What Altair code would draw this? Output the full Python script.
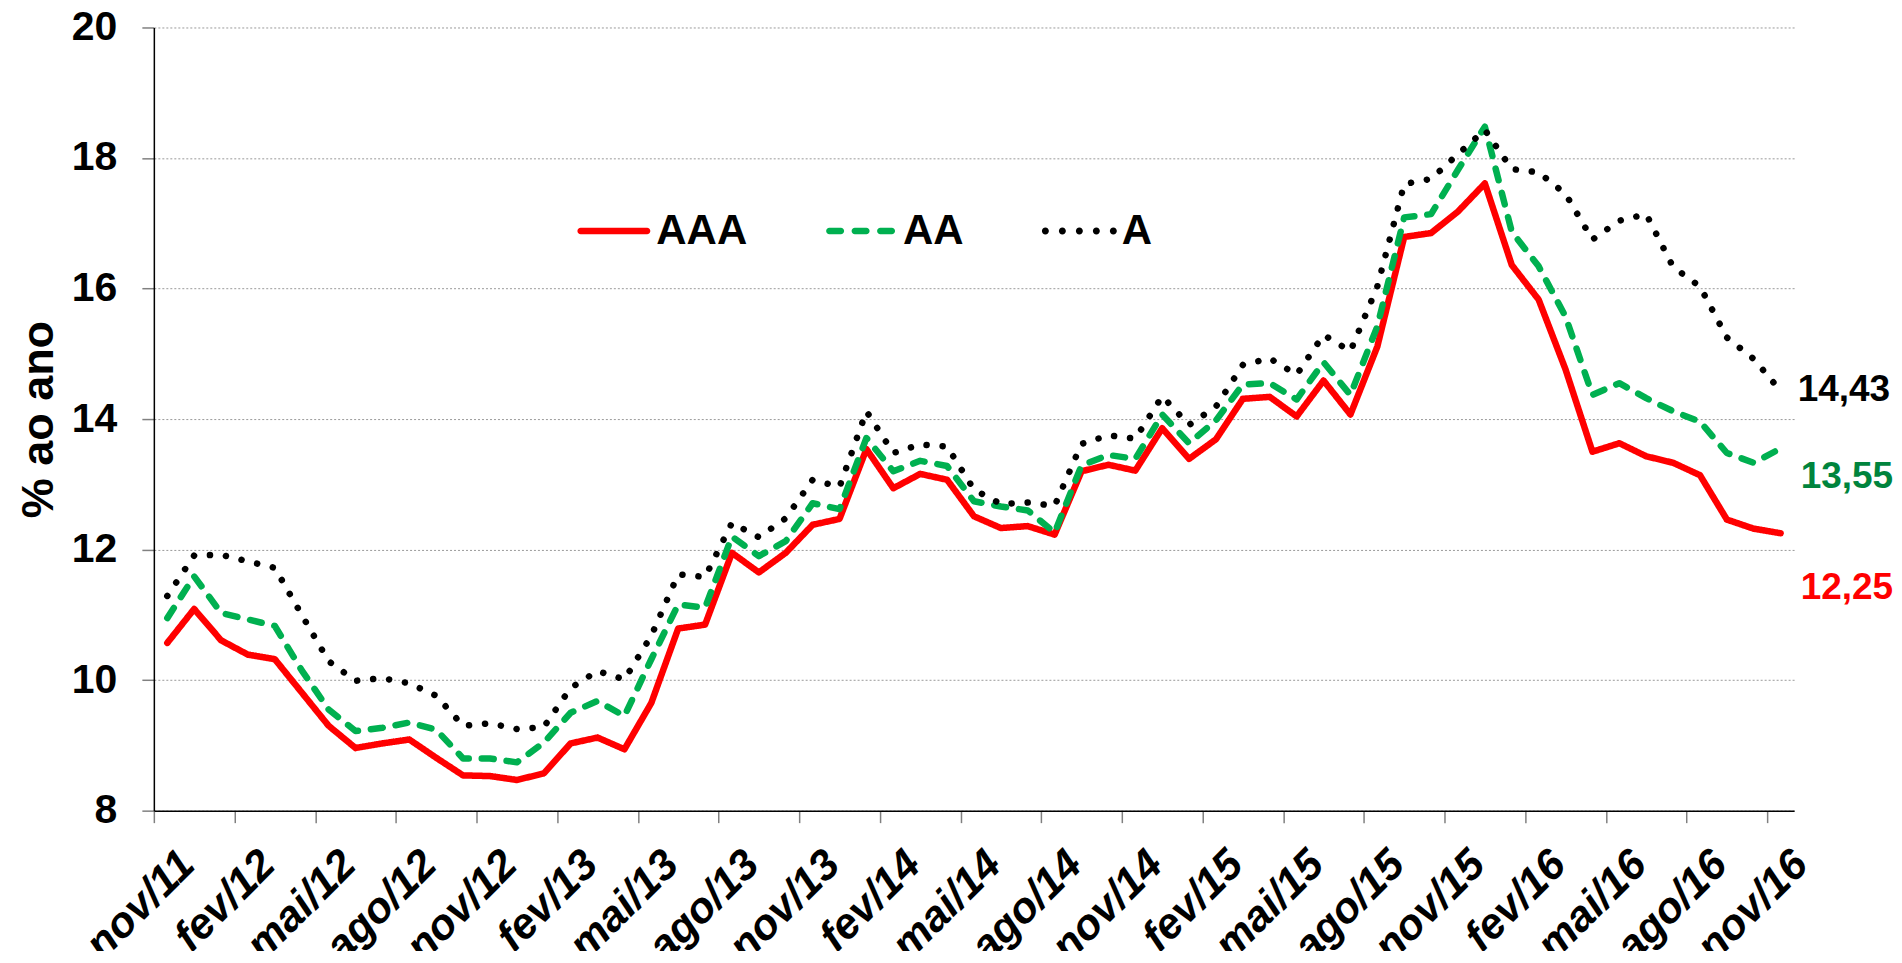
import altair as alt
import pandas as pd

meses = ["nov/11","dez/11","jan/12","fev/12","mar/12","abr/12","mai/12","jun/12","jul/12","ago/12",
         "set/12","out/12","nov/12","dez/12","jan/13","fev/13","mar/13","abr/13","mai/13","jun/13",
         "jul/13","ago/13","set/13","out/13","nov/13","dez/13","jan/14","fev/14","mar/14","abr/14",
         "mai/14","jun/14","jul/14","ago/14","set/14","out/14","nov/14","dez/14","jan/15","fev/15",
         "mar/15","abr/15","mai/15","jun/15","jul/15","ago/15","set/15","out/15","nov/15","dez/15",
         "jan/16","fev/16","mar/16","abr/16","mai/16","jun/16","jul/16","ago/16","set/16","out/16",
         "nov/16"]

aaa = [10.57,11.09,10.61,10.39,10.32,9.81,9.30,8.96,9.03,9.09,
       8.81,8.54,8.53,8.47,8.57,9.03,9.12,8.94,9.65,10.79,
       10.85,11.95,11.65,11.95,12.38,12.47,13.54,12.94,13.16,13.07,
       12.51,12.33,12.36,12.23,13.20,13.30,13.21,13.86,13.39,13.69,
       14.31,14.34,14.04,14.59,14.07,15.11,16.79,16.85,17.18,17.61,
       16.36,15.83,14.76,13.50,13.63,13.43,13.33,13.14,12.46,12.32,
       12.25]

aa = [10.95,11.59,11.03,10.93,10.83,10.15,9.55,9.22,9.27,9.35,
      9.24,8.80,8.80,8.74,9.04,9.50,9.68,9.45,10.32,11.16,
      11.11,12.20,11.90,12.13,12.71,12.62,13.71,13.20,13.36,13.28,
      12.74,12.66,12.60,12.26,13.29,13.45,13.39,14.07,13.63,13.98,
      14.53,14.55,14.30,14.87,14.37,15.42,17.09,17.14,17.82,18.48,
      16.87,16.34,15.57,14.37,14.55,14.32,14.12,13.96,13.48,13.33,
      13.55]

a = [11.29,11.91,11.92,11.82,11.72,11.00,10.29,9.99,10.03,9.95,
     9.76,9.30,9.34,9.25,9.28,9.88,10.14,10.01,10.68,11.62,
     11.58,12.41,12.19,12.48,13.07,12.96,14.12,13.48,13.61,13.58,
     12.92,12.70,12.72,12.67,13.62,13.75,13.70,14.35,13.91,14.19,
     14.83,14.93,14.68,15.29,15.04,16.03,17.60,17.68,18.06,18.43,
     17.83,17.78,17.45,16.75,17.04,17.14,16.33,16.03,15.25,14.92,
     14.43]

series = ["AAA", "AA", "A"]
colors = ["#FF0000", "#00B050", "#000000"]
label_colors = ["#FF0000", "#00843D", "#000000"]
dashes = [[1, 0], [12, 13], [0.1, 16]]
y_ticks = [8, 10, 12, 14, 16, 18, 20]

# legend glyphs (unit box -1..1): solid bar, three dashes, five dots
t = 0.089
def bar(x0, x1):
    return (f"M{x0 + t:.3f},{-t} L{x1 - t:.3f},{-t} A{t},{t} 0 0 1 {x1 - t:.3f},{t} "
            f"L{x0 + t:.3f},{t} A{t},{t} 0 0 1 {x0 + t:.3f},{-t} Z")
def dot(cx, r=0.096):
    return f"M{cx - r:.3f},0 A{r},{r} 0 1 0 {cx + r:.3f},0 A{r},{r} 0 1 0 {cx - r:.3f},0 Z"
legend_shapes = [
    bar(-1.0, 1.0),
    " ".join(bar(s, e) for s, e in [(-0.945, -0.452), (-0.247, 0.247), (0.452, 0.945)]),
    " ".join(dot(c) for c in [-0.932, -0.466, 0.0, 0.466, 0.932]),
]

rows = []
for name, vals in zip(series, [aaa, aa, a]):
    for i, v in enumerate(vals):
        rows.append({"idx": i, "mes": meses[i], "serie": name, "valor": v})
df = pd.DataFrame(rows)

last = pd.DataFrame({
    "idx": [len(meses) - 1] * 3,
    "serie": series,
    "valor": [aaa[-1], aa[-1], a[-1]],
    "txt": [f"{v:.2f}".replace(".", ",") for v in (aaa[-1], aa[-1], a[-1])],
})

label_expr = "[" + ",".join(f"'{m}'" for m in meses) + "][datum.value]"
cat_w = 1642 / 61.0

x_scale = alt.Scale(domain=[-0.5, 60.5], nice=False, zero=False)
y_scale = alt.Scale(domain=[8, 20], nice=False, zero=False)

x_axis = alt.Axis(
    values=list(range(0, 61, 3)), labelExpr=label_expr, title=None, grid=False,
    labelAngle=315, labelAlign="right", labelBaseline="top",
    labelFontSize=43, labelFontWeight="bold", labelFontStyle="italic", labelColor="black",
    labelPadding=20, tickOffset=-cat_w / 2, labelOffset=cat_w / 2 + 5,
    tickSize=12, tickColor="#808080", tickWidth=1.5,
    domainColor="black", domainWidth=1.5, labelOverlap=False, labelFlush=False, labelBound=False,
    labelLimit=400,
)
y_axis = alt.Axis(
    values=y_ticks, format="d", title="% ao ano", grid=True, gridColor="#9a9a9a",
    gridDash=[2, 2], gridWidth=1,
    labelFontSize=41, labelFontWeight="bold", labelColor="black", labelPadding=25,
    tickSize=12, tickColor="#808080", tickWidth=1.5,
    domainColor="black", domainWidth=1.5,
    titleFontSize=45, titleFontWeight="bold", titleColor="black",
    titleAngle=270, titleX=-101, titleY=392, titleAlign="center", titleBaseline="alphabetic",
    labelOverlap=False,
)

X = alt.X("idx:Q", scale=x_scale, axis=x_axis)
Y = alt.Y("valor:Q", scale=y_scale, axis=y_axis)

layers = []
for name, col, dash in zip(series, colors, dashes):
    layers.append(
        alt.Chart(df).transform_filter(alt.datum.serie == name).mark_line(
            color=col, strokeDash=dash, strokeWidth=6.5, strokeCap="round", strokeJoin="round"
        ).encode(x=X, y=Y, order=alt.Order("idx:Q"))
    )

legend = alt.Legend(
    orient="none", legendX=424, legendY=167, direction="horizontal", title=None,
    symbolSize=5329, symbolStrokeWidth=0, symbolOpacity=1,
    labelFontSize=42, labelFontWeight="bold", labelColor="black", labelOffset=6,
    columnPadding=77, labelLimit=400,
)
legend_layer = alt.Chart(df).transform_filter(alt.datum.idx < 0).mark_point(
    filled=True, strokeWidth=0, opacity=1
).encode(
    x=X, y=Y,
    color=alt.Color("serie:N", scale=alt.Scale(domain=series, range=colors), legend=legend),
    shape=alt.Shape("serie:N", scale=alt.Scale(domain=series, range=legend_shapes), legend=legend),
)

offsets = {"A": (17, 10), "AA": (20, 40), "AAA": (20, 66)}
texts = []
for name, col in zip(series, label_colors):
    dx, dy = offsets[name]
    texts.append(
        alt.Chart(last[last.serie == name]).mark_text(
            align="left", baseline="alphabetic", dx=dx, dy=dy,
            fontSize=37, fontWeight="bold", color=col,
        ).encode(x=X, y=Y, text="txt:N")
    )

chart = alt.layer(*layers, legend_layer, *texts).properties(
    width=1642, height=784,
    padding={"left": 146, "top": 19, "right": 100, "bottom": 140},
    autosize=alt.AutoSizeParams(type="none"),
).configure(font="Liberation Sans").configure_view(stroke=None)

chart.save("out.html", embed_options={"renderer": "svg", "actions": False})
